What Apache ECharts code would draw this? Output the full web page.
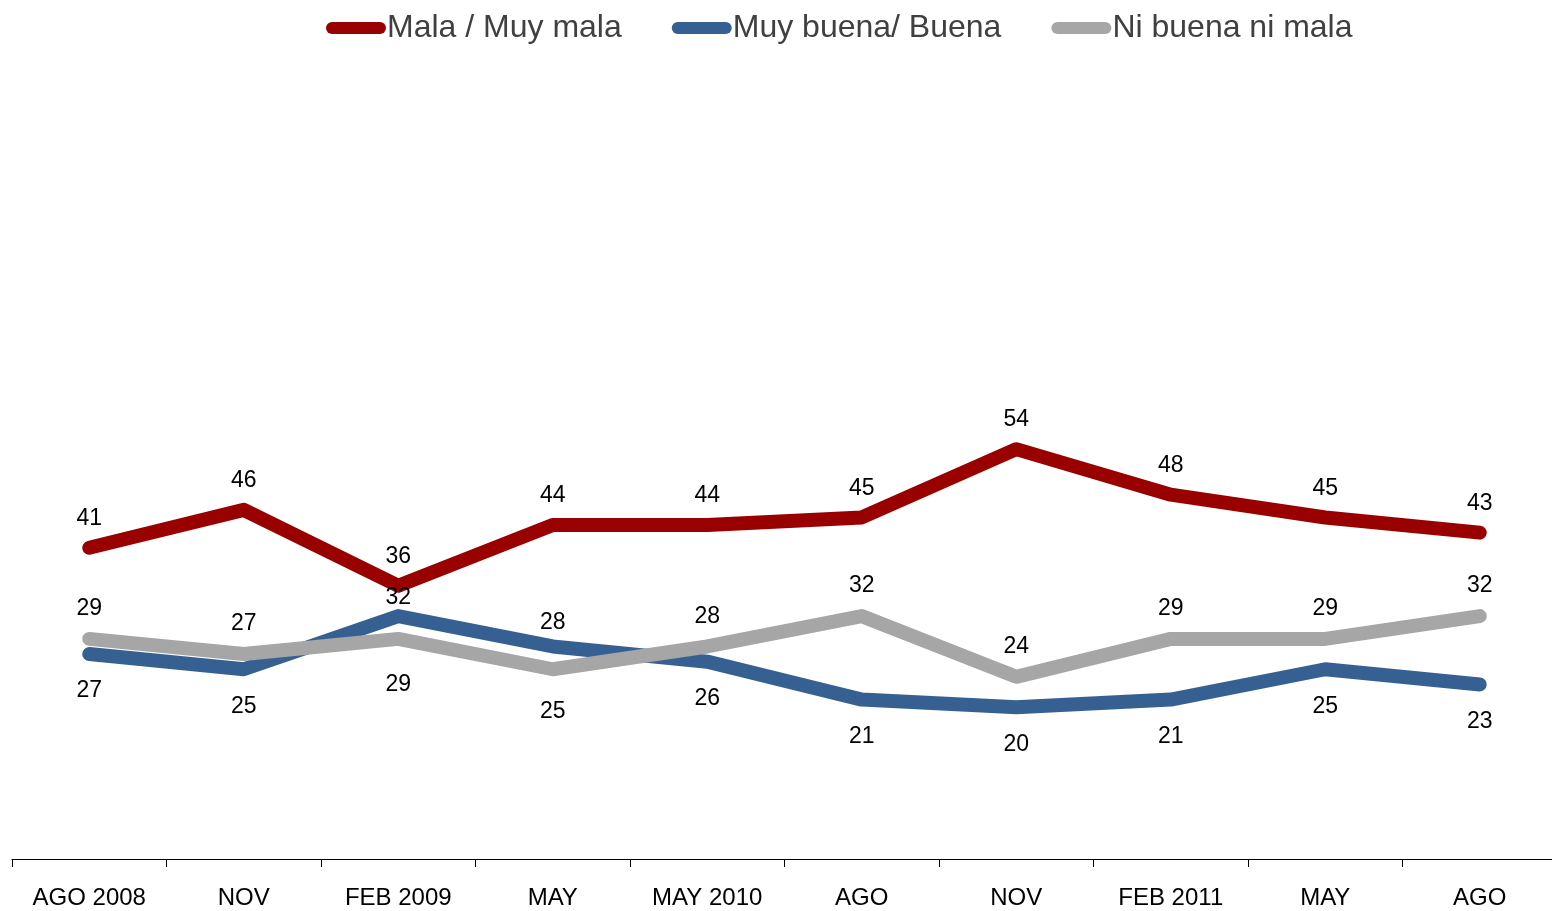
<!DOCTYPE html>
<html>
<head>
<meta charset="utf-8">
<script src="https://cdn.jsdelivr.net/npm/echarts@6/dist/echarts.min.js"></script>
<style>
  html, body { margin: 0; padding: 0; background: #fff; overflow: hidden; }
  /* the plot runs a few px past the right edge in the original */
  #main { width: 1557px; height: 911px; }
</style>
</head>
<body>
<div id="main"></div>
<script>
// data
const categories = ["AGO 2008", "NOV", "FEB 2009", "MAY", "MAY 2010", "AGO", "NOV", "FEB 2011", "MAY", "AGO"];
const malaValues = [41, 46, 36, 44, 44, 45, 54, 48, 45, 43];
const buenaValues = [27, 25, 32, 28, 26, 21, 20, 21, 25, 23];
const niValues = [29, 27, 29, 25, 28, 32, 24, 29, 29, 32];

// where each value label sits (position, distance)
const buenaLabelPos = ["bottom", "bottom", "top", "top", "bottom", "bottom", "bottom", "bottom", "bottom", "bottom"];
const buenaLabelDist = [25, 25, 6, 12, 25, 25, 25, 25, 25, 25];
const niLabelPos = ["top", "top", "bottom", "bottom", "top", "top", "top", "top", "top", "top"];
const niLabelDist = [18, 18, 34, 30, 18, 18, 18, 18, 18, 18];

const chart = echarts.init(document.getElementById("main"));

const capsule = "path://M6,0 L54,0 A6,6 0 0 1 54,12 L6,12 A6,6 0 0 1 6,0 Z";
const font = "Liberation Sans, Arial, sans-serif";

function withPos(values, pos, dist) {
  return values.map((v, i) => ({ value: v, label: { position: pos[i], distance: dist[i] } }));
}

function lineSeries(name, color, data, defaultPos) {
  return {
    name: name,
    type: "line",
    data: data,
    symbol: "circle",
    symbolSize: 1,
    itemStyle: { color: color },
    lineStyle: { color: color, width: 14, cap: "round", join: "round" },
    label: {
      show: true,
      position: defaultPos,
      distance: 17,
      color: "#000",
      fontSize: 23,
      fontFamily: font,
    },
    labelLayout: { hideOverlap: false },
    emphasis: { disabled: true },
    animation: false,
  };
}

const option = {
  backgroundColor: "#fff",
  legend: {
    top: 7,
    left: 321,
    itemWidth: 62,
    itemHeight: 12,
    itemGap: 50,
    icon: capsule,
    data: ["Mala / Muy mala", "Muy buena/ Buena", "Ni buena ni mala"],
    textStyle: {
      color: "#404040",
      fontSize: 32,
      fontFamily: font,
      padding: [0, 0, 0, -5],
    },
  },
  grid: {
    left: 12,
    right: 0,
    top: 100,
    bottom: 52,
    containLabel: false,
  },
  xAxis: {
    type: "category",
    data: categories,
    boundaryGap: true,
    axisLine: { lineStyle: { color: "#000", width: 1 } },
    axisTick: { show: true, length: 8, lineStyle: { color: "#000" } },
    axisLabel: {
      color: "#000",
      fontSize: 24,
      margin: 27,
      fontFamily: font,
    },
  },
  yAxis: {
    type: "value",
    min: 0,
    max: 100,
    show: false,
    splitLine: { show: false },
  },
  series: [
    lineSeries("Mala / Muy mala", "#990000", malaValues, "top"),
    lineSeries("Muy buena/ Buena", "#376092", withPos(buenaValues, buenaLabelPos, buenaLabelDist), "bottom"),
    lineSeries("Ni buena ni mala", "#a6a6a6", withPos(niValues, niLabelPos, niLabelDist), "top"),
  ],
};

option && chart.setOption(option);
</script>
</body>
</html>
